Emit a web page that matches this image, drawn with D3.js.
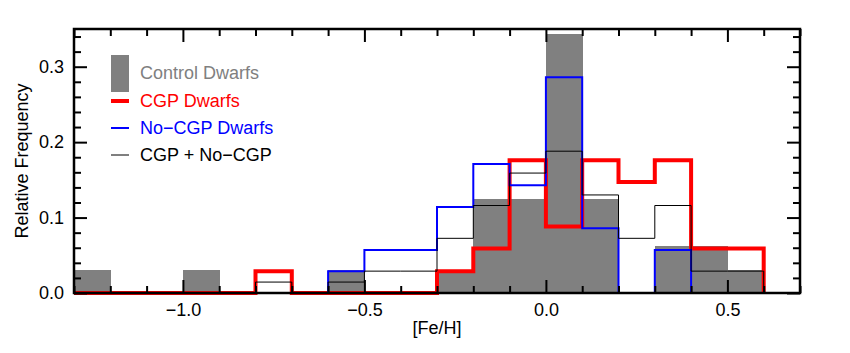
<!DOCTYPE html>
<html>
<head>
<meta charset="utf-8">
<script src="https://cdn.jsdelivr.net/npm/d3@7"></script>
<style>
body { margin: 0; background: #fff; }
text { font-family: "Liberation Sans", Arial, Helvetica, sans-serif; }
</style>
</head>
<body>
<svg id="chart" width="850" height="353"></svg>
<script>
// bin left edges, width 0.1
const binStarts = [-1.3, -1.2, -1.1, -1.0, -0.9, -0.8, -0.7, -0.6, -0.5, -0.4,
                   -0.3, -0.2, -0.1, 0.0, 0.1, 0.2, 0.3, 0.4, 0.5];
const binWidth = 0.1;
const controlDwarfs = [0.031, 0, 0, 0.031, 0, 0, 0, 0.031, 0, 0,
                       0.031, 0.125, 0.125, 0.344, 0.125, 0, 0.0625, 0.0625, 0.031];
const cgpDwarfs = [0, 0, 0, 0, 0, 0.029, 0, 0, 0, 0,
                   0.029, 0.059, 0.176, 0.088, 0.176, 0.147, 0.176, 0.059, 0.059];
const noCgpDwarfs = [0, 0, 0, 0, 0, 0, 0, 0.029, 0.057, 0.057,
                     0.114, 0.171, 0.143, 0.286, 0.086, 0, 0.057, 0, 0];
const cgpPlusNoCgp = [0, 0, 0, 0, 0, 0.0145, 0, 0.0145, 0.029, 0.029,
                      0.0725, 0.116, 0.159, 0.188, 0.130, 0.0725, 0.116, 0.029, 0.029];
const xMajorTicks = [-1.0, -0.5, 0.0, 0.5];
const yMajorTicks = [0.0, 0.1, 0.2, 0.3];

const mLeft = 74, mRight = 800, mTop = 29, mBottom = 293;
const fontSize = 18;

const svg = d3.select('#chart');

const x = d3.scaleLinear().domain([-1.3, 0.7]).range([mLeft, mRight]);
const y = d3.scaleLinear().domain([0, 0.35]).range([mBottom, mTop]);

// gray filled bars
svg.append('g')
  .attr('shape-rendering', 'crispEdges')
  .selectAll('rect')
  .data(binStarts.map((b, i) => ({b: b, v: controlDwarfs[i]})).filter(d => d.v > 0))
  .enter()
  .append('rect')
  .attr('x', d => x(d.b))
  .attr('width', d => x(d.b + binWidth) - x(d.b) + 0.5)
  .attr('y', d => y(d.v))
  .attr('height', d => y(0) - y(d.v))
  .attr('fill', '#808080');

// step outline from a series, only between first and last non-zero bin when trim is set
function stepPoints(vals, trim) {
  let i0 = 0, i1 = vals.length - 1;
  if (trim) {
    while (i0 < vals.length && vals[i0] === 0) i0++;
    while (i1 > 0 && vals[i1] === 0) i1--;
  }
  const pts = [[binStarts[i0], 0]];
  for (let i = i0; i <= i1; i++) {
    pts.push([binStarts[i], vals[i]]);
    pts.push([binStarts[i] + binWidth, vals[i]]);
  }
  pts.push([binStarts[i1] + binWidth, 0]);
  return pts;
}

const line = d3.line().x(d => x(d[0])).y(d => y(d[1]));

svg.append('path')
  .attr('d', line(stepPoints(cgpDwarfs, false)))
  .attr('fill', 'none').attr('stroke', '#ff0000').attr('stroke-width', 4)
  .attr('stroke-linejoin', 'miter');

svg.append('path')
  .attr('d', line(stepPoints(noCgpDwarfs, true)))
  .attr('fill', 'none').attr('stroke', '#0000ff').attr('stroke-width', 2);

svg.append('path')
  .attr('d', line(stepPoints(cgpPlusNoCgp, true)))
  .attr('fill', 'none').attr('stroke', '#000').attr('stroke-width', 1);

// axes, ticks pointing inward
const xMinor = d3.range(-13, 8).map(d => d / 10).filter(d => !xMajorTicks.some(m => Math.abs(m - d) < 1e-9));
const yMinor = d3.range(0, 18).map(d => d / 50).filter(d => !yMajorTicks.some(m => Math.abs(m - d) < 1e-9));
const fmt = d3.format('.1f');

function styleAxis(g) {
  g.select('.domain').remove();
  g.selectAll('line').attr('stroke', '#000').attr('stroke-width', 2);
  g.selectAll('text').attr('font-size', fontSize).attr('fill', '#000')
    .attr('font-family', '"Liberation Sans", Arial, sans-serif');
}

svg.append('g').attr('transform', `translate(0,${mBottom})`)
  .call(d3.axisBottom(x).tickValues(xMajorTicks).tickFormat(fmt).tickSize(-13).tickPadding(10))
  .call(styleAxis);
svg.append('g').attr('transform', `translate(0,${mBottom})`)
  .call(d3.axisBottom(x).tickValues(xMinor).tickFormat('').tickSize(-7))
  .call(styleAxis);
svg.append('g').attr('transform', `translate(0,${mTop})`)
  .call(d3.axisTop(x).tickValues(xMajorTicks).tickFormat('').tickSize(-13))
  .call(styleAxis);
svg.append('g').attr('transform', `translate(0,${mTop})`)
  .call(d3.axisTop(x).tickValues(xMinor).tickFormat('').tickSize(-7))
  .call(styleAxis);

svg.append('g').attr('transform', `translate(${mLeft},0)`)
  .call(d3.axisLeft(y).tickValues(yMajorTicks).tickFormat(fmt).tickSize(-13).tickPadding(10))
  .call(styleAxis);
svg.append('g').attr('transform', `translate(${mLeft},0)`)
  .call(d3.axisLeft(y).tickValues(yMinor).tickFormat('').tickSize(-7))
  .call(styleAxis);
svg.append('g').attr('transform', `translate(${mRight},0)`)
  .call(d3.axisRight(y).tickValues(yMajorTicks).tickFormat('').tickSize(-13))
  .call(styleAxis);
svg.append('g').attr('transform', `translate(${mRight},0)`)
  .call(d3.axisRight(y).tickValues(yMinor).tickFormat('').tickSize(-7))
  .call(styleAxis);

// frame
svg.append('rect')
  .attr('x', mLeft).attr('y', mTop)
  .attr('width', mRight - mLeft).attr('height', mBottom - mTop)
  .attr('fill', 'none').attr('stroke', '#000').attr('stroke-width', 2.5);

// axis titles
svg.append('text')
  .attr('x', (mLeft + mRight) / 2).attr('y', 334)
  .attr('text-anchor', 'middle').attr('font-size', fontSize)
  .text('[Fe/H]');

svg.append('text')
  .attr('transform', `translate(28,${(mTop + mBottom) / 2}) rotate(-90)`)
  .attr('text-anchor', 'middle').attr('font-size', fontSize)
  .text('Relative Frequency');

// legend
const legendItems = [
  {label: 'Control Dwarfs', color: '#808080', kind: 'box', y: 73},
  {label: 'CGP Dwarfs', color: '#ff0000', kind: 'line', width: 4, y: 101},
  {label: 'No\u2212CGP Dwarfs', color: '#0000ff', kind: 'line', width: 2, y: 128},
  {label: 'CGP + No\u2212CGP', color: '#000000', kind: 'line', width: 1, y: 155}
];

const legend = svg.append('g');
legendItems.forEach(function(d) {
  if (d.kind === 'box') {
    legend.append('rect')
      .attr('x', 111).attr('y', 55).attr('width', 18).attr('height', 37)
      .attr('fill', d.color);
  } else {
    legend.append('line')
      .attr('x1', 111).attr('x2', 129).attr('y1', d.y).attr('y2', d.y)
      .attr('stroke', d.color).attr('stroke-width', d.width);
  }
  legend.append('text')
    .attr('x', 140).attr('y', d.y).attr('dy', '0.36em')
    .attr('font-size', fontSize).attr('fill', d.color)
    .text(d.label);
});
</script>
</body>
</html>
